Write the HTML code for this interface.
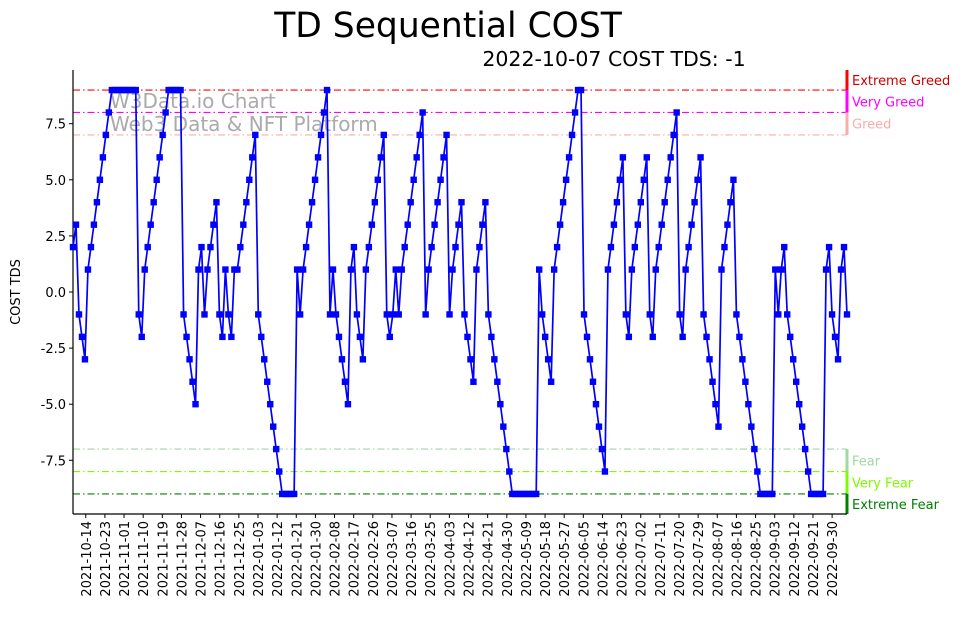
<!DOCTYPE html>
<html><head><meta charset="utf-8"><style>
body{margin:0;background:#fff;font-family:"Liberation Sans","DejaVu Sans",sans-serif}
svg text{font-family:"DejaVu Sans","Liberation Sans",sans-serif}
</style></head><body>
<svg id="c" width="967" height="614" xmlns="http://www.w3.org/2000/svg"></svg>
<script>
const values = [2,3,-1,-2,-3,1,2,3,4,5,6,7,8,9,
9,9,9,9,9,9,9,9,
-1,-2,1,2,3,4,5,6,7,8,9,9,9,9,9,
-1,-2,-3,-4,-5,1,2,-1,1,2,3,4,-1,-2,1,-1,-2,1,1,2,3,4,5,6,7,
-1,-2,-3,-4,-5,-6,-7,-8,-9,-9,-9,-9,-9,
1,-1,1,2,3,4,5,6,7,8,9,
-1,1,-1,-2,-3,-4,-5,1,2,-1,-2,-3,1,2,3,4,5,6,7,
-1,-2,-1,1,-1,1,2,3,4,5,6,7,8,
-1,1,2,3,4,5,6,7,
-1,1,2,3,4,-1,-2,-3,-4,1,2,3,4,
-1,-2,-3,-4,-5,-6,-7,-8,-9,-9,-9,-9,-9,-9,-9,-9,-9,
1,-1,-2,-3,-4,1,2,3,4,5,6,7,8,9,9,
-1,-2,-3,-4,-5,-6,-7,-8,
1,2,3,4,5,6,-1,-2,1,2,3,4,5,6,
-1,-2,1,2,3,4,5,6,7,8,
-1,-2,1,2,3,4,5,6,
-1,-2,-3,-4,-5,-6,1,2,3,4,5,
-1,-2,-3,-4,-5,-6,-7,-8,-9,-9,-9,-9,-9,
1,-1,1,2,-1,-2,-3,-4,-5,-6,-7,-8,-9,-9,-9,-9,-9,
1,2,-1,-2,-3,1,2,-1];
const xTickLabels = ["2021-10-14","2021-10-23","2021-11-01","2021-11-10","2021-11-19","2021-11-28","2021-12-07","2021-12-16","2021-12-25","2022-01-03","2022-01-12","2022-01-21","2022-01-30","2022-02-08","2022-02-17","2022-02-26","2022-03-07","2022-03-16","2022-03-25","2022-04-03","2022-04-12","2022-04-21","2022-04-30","2022-05-09","2022-05-18","2022-05-27","2022-06-05","2022-06-14","2022-06-23","2022-07-02","2022-07-11","2022-07-20","2022-07-29","2022-08-07","2022-08-16","2022-08-25","2022-09-03","2022-09-12","2022-09-21","2022-09-30"];
const yTicks = [-7.5,-5,-2.5,0,2.5,5,7.5];
const levels = [9,8,7,-7,-8,-9];
const levelLabels = ["Extreme Greed","Very Greed","Greed","Fear","Very Fear","Extreme Fear"];
const levelColors = ["#ff0000","#ff00ff","#ffaaaa","#a0d8a0","#7cfc00","#008000"];
const labelColors = ["#cc0000","#ff00ff","#ffaaaa","#a0d8a0","#7cfc00","#008000"];
const startDate = "2021-10-08", endDate = "2022-10-07";

const NS="http://www.w3.org/2000/svg", svg=document.getElementById('c');
function mk(t,a,p){const e=document.createElementNS(NS,t);for(const k in a)e.setAttribute(k,a[k]);(p||svg).appendChild(e);return e;}
const X0=73,X1=847,Y0=70,Y1=514;
const y=v=>292-v*22.44;
const xi=i=>X0+i*(X1-X0)/(values.length-1);
const d0=Date.parse(startDate),d1=Date.parse(endDate);
const xd=s=>X0+(Date.parse(s)-d0)/(d1-d0)*(X1-X0);

let t=mk('text',{x:448,y:37,'font-size':34.5,'text-anchor':'middle'});t.textContent='TD Sequential COST';


t=mk('text',{x:614,y:66,'font-size':20.5,'text-anchor':'middle'});t.textContent='2022-10-07 COST TDS: -1';


t=mk('text',{x:110,y:108,'font-size':20,fill:'#aaa'});t.textContent='W3Data.io Chart';


t=mk('text',{x:110,y:131,'font-size':20,fill:'#aaa'});t.textContent='Web3 Data & NFT Platform';



levels.forEach((lv,k)=>{
  const l=mk('line',{x1:X0,x2:X1,y1:y(lv),y2:y(lv),stroke:levelColors[k],'stroke-width':1.1,'stroke-dasharray':'7,3,1.5,3'});
  
  
  const top=lv>0?(k===0?Y0:y(levels[k-1])):y(lv);
  const bot=lv>0?y(lv):(k===5?Y1:y(levels[k+1]));
  const b=mk('line',{x1:X1,x2:X1,y1:top,y2:bot,stroke:levelColors[k],'stroke-width':3});
  
  
  const tx=mk('text',{x:852,y:(top+bot)/2+5,'font-size':13,fill:labelColors[k]});tx.textContent=levelLabels[k];
  
  
});

let ax=mk('line',{x1:X0,x2:X0,y1:Y0,y2:Y1,stroke:'#000','stroke-width':1.2});


ax=mk('line',{x1:X0,x2:X1,y1:Y1,y2:Y1,stroke:'#000','stroke-width':1.2});



yTicks.forEach(v=>{
  mk('line',{x1:X0-4,x2:X0,y1:y(v),y2:y(v),stroke:'#000'});
  const tx=mk('text',{x:X0-7,y:y(v)+5,'font-size':13,'text-anchor':'end'});tx.textContent=v.toFixed(1);
  
  
});
t=mk('text',{x:20,y:292,'font-size':13,'text-anchor':'middle',transform:'rotate(-90 20 292)'});t.textContent='COST TDS';



xTickLabels.forEach(s=>{
  const xx=xd(s);
  mk('line',{x1:xx,x2:xx,y1:Y1,y2:Y1+4,stroke:'#000'});
  const tx=mk('text',{x:0,y:0,'font-size':13,'text-anchor':'end',transform:`translate(${xx+5},${Y1+7}) rotate(-90)`});tx.textContent=s;
  
  
});

const pts=values.map((v,i)=>xi(i).toFixed(2)+','+y(v).toFixed(2)).join(' ');
const pl=mk('polyline',{points:pts,fill:'none',stroke:'#0000ff','stroke-width':1.7});


values.forEach((v,i)=>{
  const r=mk('rect',{x:xi(i)-3.2,y:y(v)-3.2,width:6.4,height:6.4,fill:'#0000ff'});
  
  
});
</script>
</body></html>
